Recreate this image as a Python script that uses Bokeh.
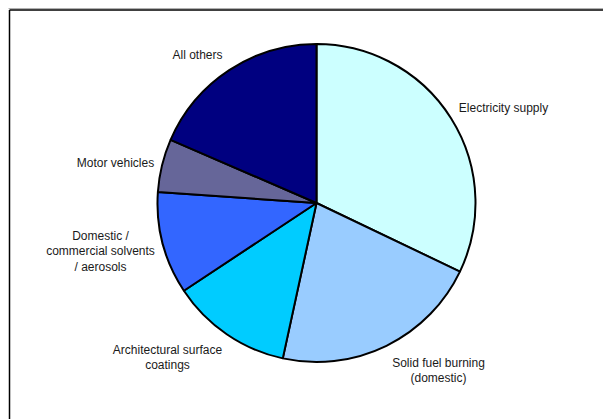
import numpy as np
from bokeh.plotting import figure
from bokeh.models import ColumnDataSource
from bokeh.core.properties import value
from bokeh.embed import file_html
from bokeh.resources import INLINE

# Emission sources (share of total, %)
categories = [
    "Electricity supply",
    "Solid fuel burning\n(domestic)",
    "Architectural surface\ncoatings",
    "Domestic /\ncommercial solvents\n/ aerosols",
    "Motor vehicles",
    "All others",
]
shares = [32.1, 21.3, 12.3, 10.4, 5.4, 18.5]
colors = ["#CCFFFF", "#99CCFF", "#00CCFF", "#3366FF", "#666699", "#000080"]

# label anchor points (page pixels, y measured from top)
label_x = [503, 438, 167, 100, 115, 197]
label_y = [107, 370, 357, 251, 162, 54]

W, H = 603, 419
CX, CY, R = 316, 202.5, 159

frac = np.array(shares) / sum(shares)
cum_end = np.cumsum(frac)
cum_start = cum_end - frac
start = np.pi / 2 - cum_start * 2 * np.pi
end = np.pi / 2 - cum_end * 2 * np.pi

src = ColumnDataSource(dict(start=start, end=end, color=colors))

p = figure(width=W, height=H, x_range=(0, W), y_range=(0, H),
           output_backend="svg", toolbar_location=None, min_border=0)
p.axis.visible = False
p.grid.visible = False
p.outline_line_color = None
p.background_fill_color = "white"
p.border_fill_color = "white"

# chart frame
p.segment(x0=[8, 9], y0=[H - 8, H - 9.5], x1=[W, W], y1=[H - 8, H - 9.5],
          line_color=["#b0b0b0", "black"], line_width=[1, 1.5])
p.segment(x0=[9], y0=[H - 9.5], x1=[9], y1=[0], line_color="black", line_width=1.5)

p.wedge(x=CX, y=H - CY, radius=R, start_angle="start", end_angle="end",
        direction="clock", fill_color="color", line_color="black",
        line_width=2, source=src)

lsrc = ColumnDataSource(dict(x=label_x, y=[H - v for v in label_y], t=categories))
p.text(x="x", y="y", text="t", source=lsrc, text_align="center",
       text_baseline="middle", text_font=value("Liberation Sans"),
       text_font_size="12px", text_color="#1a1a1a", text_line_height=1.08)

open("out.html", "w").write(file_html(p, INLINE))
